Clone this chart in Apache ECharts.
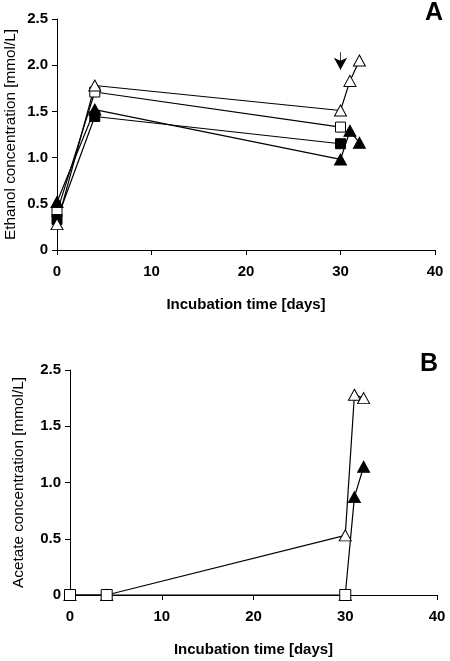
<!DOCTYPE html>
<html><head><meta charset="utf-8">
<script src="https://cdn.jsdelivr.net/npm/echarts@6/dist/echarts.min.js"></script>
<style>html,body{margin:0;padding:0;background:#fff}#c{width:450px;height:661px}</style>
</head><body><div id="c"></div>
<script>
// ---- Panel A: ethanol ----
const aOpenTri = [[0,0.28],[4,1.78],[30,1.51],[31,1.83],[32,2.05]];
const aOpenSq = [[0,0.41],[4,1.71],[30,1.33]];
const aFilledSq = [[0,0.33],[4,1.445],[30,1.15]];
const aFilledTri = [[0,0.52],[4,1.52],[30,0.98],[31,1.29],[32,1.16]];
const aArrow = [[30,2.14],[30,1.95]];
// ---- Panel B: acetate ----
const bOpenSq = [[0,0],[4,0],[30,0]];
const bOpenTri = [[0,0],[4,0],[30,0.53],[31,1.78],[32,1.75]];
const bFilledTri = [[30,0],[31,0.87],[32,1.14]];
const bArrow = [[30.2,2.05],[30.2,1.88]];
const bTickLabels = ['0','0.5','1.0','1.5','2.5'];

const font = 'Liberation Sans, Arial, sans-serif';
const axisLine = {show:true, lineStyle:{color:'#000', width:1}};
const axisTick = {show:true, inside:false, length:5, lineStyle:{color:'#000'}};
function xAxis(gi){
  return {type:'value', gridIndex:gi, min:0, max:40, interval:10,
    axisLine, axisTick, splitLine:{show:false},
    axisLabel:{color:'#000', fontFamily:font, fontWeight:'bold', fontSize:15, margin:14},
    name:'Incubation time [days]', nameLocation:'middle', nameGap:47, nameMoveOverlap:false,
    nameTextStyle:{color:'#000', fontFamily:font, fontWeight:'bold', fontSize:15}};
}
function ser(data, sym, size, fill, xi, extra){
  return Object.assign({type:'line', data, xAxisIndex:xi, yAxisIndex:xi, symbol:sym, symbolSize:size,
    showSymbol:true, lineStyle:{color:'#000', width:1.2}, itemStyle:{color:fill, borderColor:'#000', borderWidth:1},
    z:3, animation:false, clip:false}, extra||{});
}
function arrow(d){
  return {markLine:{silent:true, symbol:['none','arrow'], symbolSize:[10,12],
    label:{show:false}, lineStyle:{color:'#000', width:0.8, type:'solid'},
    data:[[{coord:d[0]},{coord:d[1]}]]}};
}
const tri=[12,11], sq=10;
const chart = echarts.init(document.getElementById('c'), null, {renderer:'canvas'});
chart.setOption({
  animation:false,
  backgroundColor:'#fff',
  grid:[{left:57, right:15, top:19, height:231, containLabel:false, outerBoundsMode:'none'},
        {left:70, right:13, top:370, height:225, containLabel:false, outerBoundsMode:'none'}],
  xAxis:[xAxis(0), xAxis(1)],
  yAxis:[
    {type:'value', gridIndex:0, min:0, max:2.5, interval:0.5, axisLine, axisTick, splitLine:{show:false},
     axisLabel:{color:'#000', fontFamily:font, fontWeight:'bold', fontSize:15, margin:9,
       formatter:v=> v===0?'0':v.toFixed(1)},
     name:'Ethanol concentration [mmol/L]', nameLocation:'middle', nameGap:39, nameMoveOverlap:false,
     nameTextStyle:{color:'#000', fontFamily:font, fontSize:15.3}},
    {type:'value', gridIndex:1, min:0, max:2, interval:0.5, axisLine, axisTick, splitLine:{show:false},
     axisLabel:{color:'#000', fontFamily:font, fontWeight:'bold', fontSize:15, margin:9,
       formatter:v=> bTickLabels[Math.round(v/0.5)]},
     name:'Acetate concentration [mmol/L]', nameLocation:'middle', nameGap:44, nameMoveOverlap:false,
     nameTextStyle:{color:'#000', fontFamily:font, fontSize:15.3}}
  ],
  graphic:[
    {type:'text', right:7, top:1, style:{text:'A', font:'bold 25px '+font, fill:'#000'}},
    {type:'text', right:12, top:352, style:{text:'B', font:'bold 25px '+font, fill:'#000'}}
  ],
  series:[
    ser(aOpenSq,'rect',sq,'#fff',0),
    ser(aFilledSq,'rect',sq,'#000',0),
    ser(aFilledTri,'triangle',tri,'#000',0),
    ser(aOpenTri,'triangle',tri,'#fff',0, arrow(aArrow)),
    ser(bFilledTri,'triangle',tri,'#000',1),
    ser(bOpenTri,'triangle',tri,'#fff',1, arrow(bArrow)),
    ser(bOpenSq,'rect',11,'#fff',1,{z:5})
  ]
});
</script></body></html>
